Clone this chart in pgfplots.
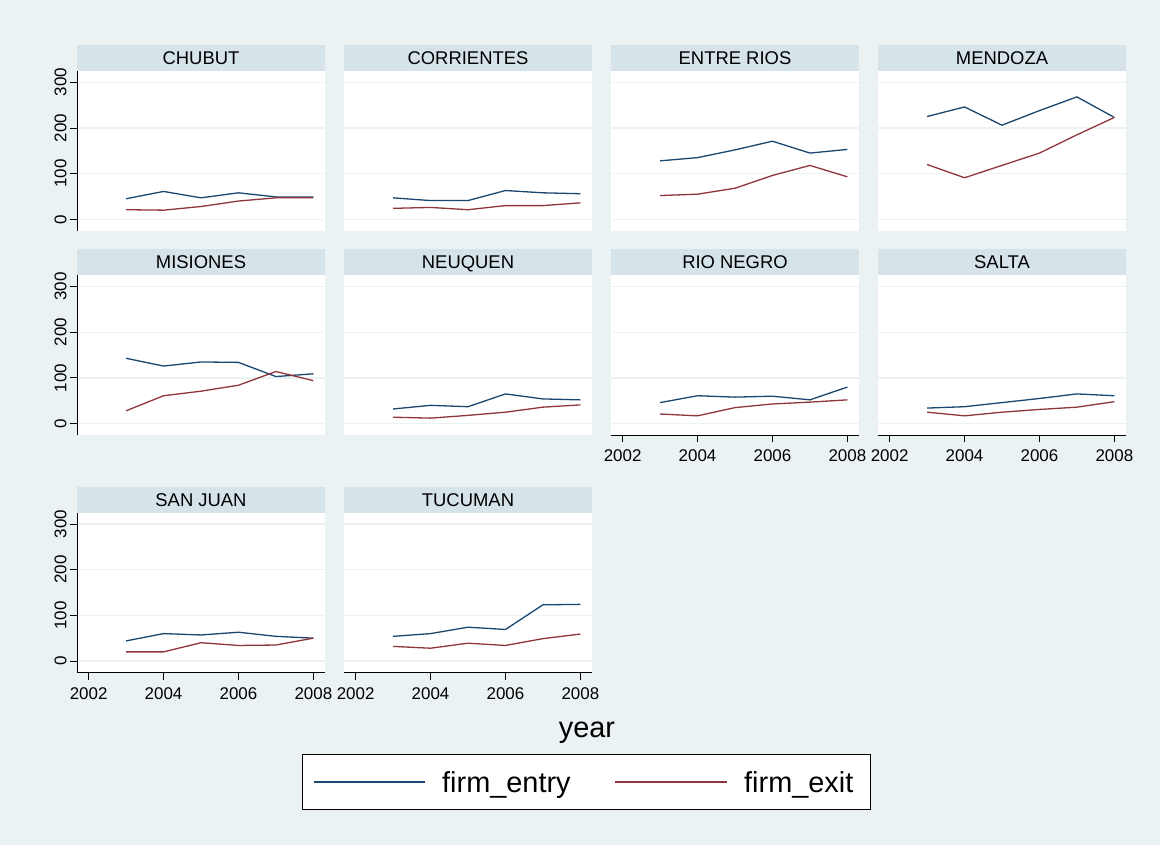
\documentclass[border=0pt]{standalone}
\usepackage{fontspec}
\setmainfont{Liberation Sans}
\usepackage{pgfplots}
\usepackage{pgfplotstable}
\pgfplotsset{compat=1.18}
\definecolor{bgc}{RGB}{234,242,243}
\definecolor{hdrc}{RGB}{214,228,234}
\definecolor{gridc}{RGB}{234,242,243}
\definecolor{entryc}{RGB}{26,71,111}
\definecolor{exitc}{RGB}{144,53,59}

\pgfplotstableread{
year CHe CHx COe COx ERe ERx MEe MEx MIe MIx NEe NEx RNe RNx SAe SAx SJe SJx TUe TUx
2003 45 21 47 24 128 52 225 120 143 28 32 14 46 21 34 25 44 20 54 32
2004 61 20 41 26 135 55 246 91 126 61 40 12 61 17 37 17 60 20 60 28
2005 47 28 41 21 152 68 206 118 135 71 37 18 58 35 46 25 57 40 74 39
2006 58 40 63 30 171 96 238 145 134 84 65 25 60 43 55 31 63 34 69 34
2007 49 47 58 30 145 118 268 185 103 114 54 36 52 47 65 36 54 35 123 49
2008 49 47 56 36 153 93 223 223 109 94 52 41 80 52 61 48 50 50 124 59
}\data

\pgfplotsset{
  panel/.style={
    scale only axis, width=248bp, height=160bp, anchor=south west,
    xmin=2001.69, xmax=2008.31, ymin=-25.6, ymax=324.7,
    axis x line*=bottom, axis y line*=left,
    axis line style={-, black, line width=0.9bp},
    xtick={2002,2004,2006,2008}, ytick={0,100,200,300},
    ymajorgrids, major grid style={color=gridc, line width=1.3bp},
    tick align=outside, major tick length=7bp,
    every tick/.style={black, line width=0.9bp},
    axis background/.style={fill=white},
    tick label style={font=\fontsize{17}{17}\selectfont},
    xticklabel style={yshift=-4bp},
    yticklabel style={rotate=90, anchor=south},
    /pgf/number format/1000 sep={},
    /pgf/number format/assume math mode=true,
  },
  nox/.style={x axis line style={draw=none}, xticklabels={}, xtick style={draw=none}},
  noy/.style={y axis line style={draw=none}, yticklabels={}, ytick style={draw=none}},
}

\newcommand{\panel}[5]{%
  \fill[hdrc] ({#1*1bp},{(845-#2+186)*1bp}) rectangle ({(#1+248)*1bp},{(845-#2+160)*1bp});
  \node[anchor=base, inner sep=0pt, font=\fontsize{18.5}{18.5}\selectfont] at ({(#1+124)*1bp},{(845-#2+166.4)*1bp}) {#3};
  \begin{axis}[panel, at={({#1*1bp},{(845-#2)*1bp})}, #5]
    \addplot[entryc, line width=1.3bp] table[x=year, y=#4e] {\data};
    \addplot[exitc, line width=1.3bp] table[x=year, y=#4x] {\data};
  \end{axis}}

\begin{document}
\begin{tikzpicture}
\useasboundingbox (0,0) rectangle (1160bp,845bp);
\fill[bgc] (0,0) rectangle (1160bp,845bp);

\panel{77}{231}{CHUBUT}{CH}{nox}
\panel{344}{231}{CORRIENTES}{CO}{nox,noy}
\panel{611}{231}{ENTRE RIOS}{ER}{nox,noy}
\panel{878}{231}{MENDOZA}{ME}{nox,noy}

\panel{77}{435.3}{MISIONES}{MI}{nox}
\panel{344}{435.3}{NEUQUEN}{NE}{nox,noy}
\panel{611}{435.3}{RIO NEGRO}{RN}{noy}
\panel{878}{435.3}{SALTA}{SA}{noy}

\panel{77}{672.7}{SAN JUAN}{SJ}{}
\panel{344}{672.7}{TUCUMAN}{TU}{noy}

\node[anchor=base, font=\fontsize{29}{29}\selectfont] at (587bp,107bp) {year};

\draw[black, line width=0.9bp, fill=white] (302bp,91bp) rectangle (870bp,36bp);
\draw[entryc, line width=2bp] (314bp,63bp) -- (425bp,63bp);
\draw[exitc, line width=2bp] (615bp,63bp) -- (727bp,63bp);
\node[anchor=base west, inner sep=0pt, font=\fontsize{29}{29}\selectfont] at (442bp,52.5bp) {firm\_entry};
\node[anchor=base west, inner sep=0pt, font=\fontsize{29}{29}\selectfont] at (744bp,52.5bp) {firm\_exit};
\end{tikzpicture}
\end{document}
